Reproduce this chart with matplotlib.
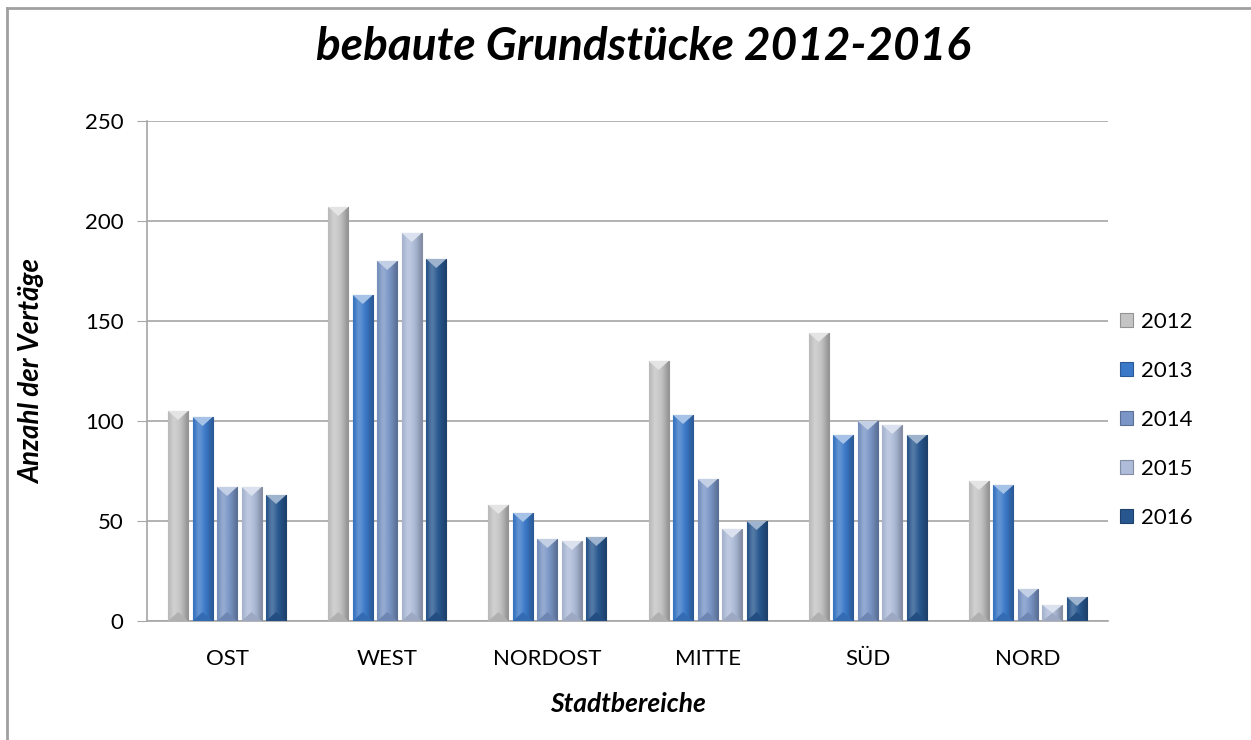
import numpy as np
import matplotlib.pyplot as plt
from matplotlib.lines import Line2D
from matplotlib.patches import Polygon
from matplotlib.colors import to_rgb

plt.rcParams['font.family'] = ['Lato', 'DejaVu Sans']

bereiche = ['OST', 'WEST', 'NORDOST', 'MITTE', 'SÜD', 'NORD']
jahre = ['2012', '2013', '2014', '2015', '2016']
v2012 = [105, 207, 58, 130, 144, 70]
v2013 = [102, 163, 54, 103, 93, 68]
v2014 = [67, 180, 41, 71, 100, 16]
v2015 = [67, 194, 40, 46, 98, 8]
v2016 = [63, 181, 42, 50, 93, 12]
werte = [v2012, v2013, v2014, v2015, v2016]
farben = ['#c4c4c4', '#3a78c8', '#7a95c6', '#aebcd9', '#28578f']

fig = plt.figure(figsize=(12.51, 7.40), dpi=100)
ax = fig.add_axes([147/1251, 1 - 621/740, (1108 - 147)/1251, 500/740])

x = np.arange(len(bereiche))
slot = 0.153
bw = 0.125


def shade(c, f):
    r = np.array(to_rgb(c))
    if f > 0:
        return tuple(r + (1 - r) * f)
    return tuple(r * (1 + f))


for i, (vals, col) in enumerate(zip(werte, farben)):
    bars = ax.bar(x + (i - 2) * slot, vals, bw, color=col, label=jahre[i],
                  edgecolor=shade(col, -0.25), linewidth=0.8, zorder=3)
    for b in bars:
        x0, w, h = b.get_x(), b.get_width(), b.get_height()
        # horizontal gradient to fake the bevel
        grad = [-0.05, 0.25, 0.15, 0.0, -0.1, -0.25]
        img = np.array([[shade(col, g) for g in grad]])
        im = ax.imshow(img, extent=[x0, x0 + w, 0, h], aspect='auto',
                       interpolation='bicubic', zorder=3.5)
        im.set_clip_path(b)
        tri = min(4.5, h / 2)
        ax.add_patch(Polygon([[x0, h], [x0 + w, h], [x0 + w / 2, h - tri]],
                             closed=True, color=shade(col, 0.55), zorder=4, lw=0))
        ax.add_patch(Polygon([[x0, 0], [x0 + w, 0], [x0 + w / 2, tri]],
                             closed=True, color=shade(col, -0.1), zorder=4, lw=0))

ax.set_xlim(-0.5, len(bereiche) - 0.5)
ax.set_ylim(0, 250)
ax.set_yticks([0, 50, 100, 150, 200, 250])
ax.set_xticks(x)
ax.set_xticklabels(bereiche)
ax.grid(axis='y', color='#a6a6a6', linewidth=1.2, zorder=0)
ax.set_axisbelow(True)
for s in ['top', 'right']:
    ax.spines[s].set_visible(False)
for s in ['left', 'bottom']:
    ax.spines[s].set_color('#a6a6a6')
    ax.spines[s].set_linewidth(1.2)
ax.tick_params(axis='y', length=7, color='#a6a6a6', labelsize=16, pad=10)
ax.tick_params(axis='x', length=0, labelsize=16, pad=20)

ax.set_xlabel('Stadtbereiche', fontsize=19, fontweight='bold', style='italic', labelpad=17)
fig.text(32/1251, 1 - 372/740, 'Anzahl der Vertäge', rotation=90, fontsize=20,
         fontweight='bold', style='italic', ha='center', va='center')
fig.text(643/1251, 1 - 47/740, 'bebaute Grundstücke 2012-2016', fontsize=33,
         fontweight='bold', style='italic', ha='center', va='center')

ax.legend(loc='center left', bbox_to_anchor=(1100/1251, 1 - 420/740),
          bbox_transform=fig.transFigure, frameon=False, fontsize=16,
          handlelength=0.6, handleheight=0.6, handletextpad=0.35, labelspacing=1.3)

fig.add_artist(Line2D([7/1251, 7/1251], [0, 1 - 8/740], color='#a0a0a0', lw=2))
fig.add_artist(Line2D([7/1251, 1], [1 - 8/740, 1 - 8/740], color='#a0a0a0', lw=2))

fig.savefig('out.png', dpi=100)
